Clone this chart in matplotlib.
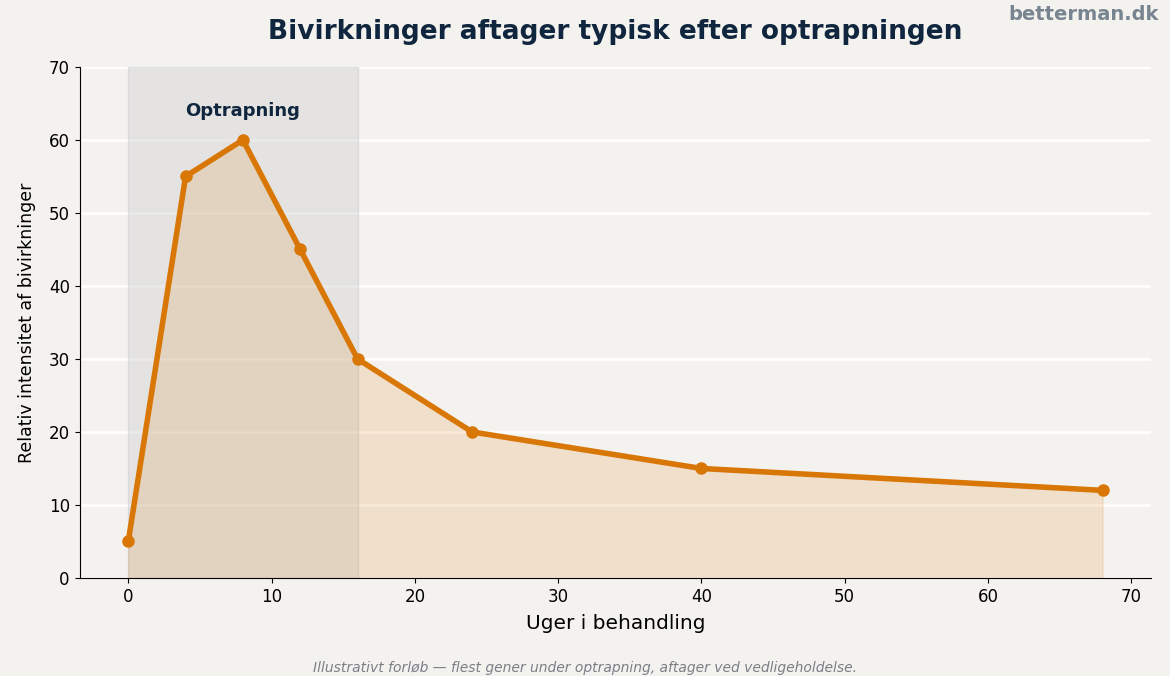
import matplotlib
matplotlib.use('Agg')
from matplotlib import pyplot as plt

# data
weeks = [0, 4, 8, 12, 16, 24, 40, 68]
intensity = [5, 55, 60, 45, 30, 20, 15, 12]
ramp_start = 0
ramp_end = 16

bg = '#f4f2ee'
orange = '#d97706'
navy = '#10263f'

fig = plt.figure(figsize=(11.7, 6.76), dpi=100, facecolor=bg)
ax = fig.add_axes([0.068, 0.145, 0.916, 0.756], facecolor=bg)

ax.axvspan(ramp_start, ramp_end, facecolor='#d6d6d6', edgecolor='#c8ccd4', alpha=0.5, zorder=1)
ax.fill_between(weeks, intensity, 0, color=orange, alpha=0.15, zorder=2)
ax.plot(weeks, intensity, color=orange, lw=4, marker='o', markersize=8, zorder=3)

ax.text((ramp_start + ramp_end) / 2, 64, 'Optrapning', ha='center', va='center',
        fontsize=13, fontweight='bold', color=navy)

ax.set_ylim(0, 70)
ax.set_xticks([0, 10, 20, 30, 40, 50, 60, 70])
ax.set_yticks([0, 10, 20, 30, 40, 50, 60, 70])
ax.tick_params(labelsize=12)
ax.grid(axis='y', color='white', lw=1.8, zorder=0)
ax.set_axisbelow(True)
for s in ['top', 'right']:
    ax.spines[s].set_visible(False)

ax.set_xlabel('Uger i behandling', fontsize=14.5, labelpad=6)
ax.set_ylabel('Relativ intensitet af bivirkninger', fontsize=12.5, labelpad=9)

fig.text(0.526, 0.953, 'Bivirkninger aftager typisk efter optrapningen', ha='center', va='center',
         fontsize=19, fontweight='bold', color=navy)
fig.text(0.99, 0.978, 'betterman.dk', ha='right', va='center', fontsize=14,
         fontweight='bold', color='#788590')
fig.text(0.5, 0.012, 'Illustrativt forløb — flest gener under optrapning, aftager ved vedligeholdelse.',
         ha='center', va='center', fontsize=10, style='italic', color='#7a7f87')

fig.savefig('out.png', dpi=100, facecolor=bg)
